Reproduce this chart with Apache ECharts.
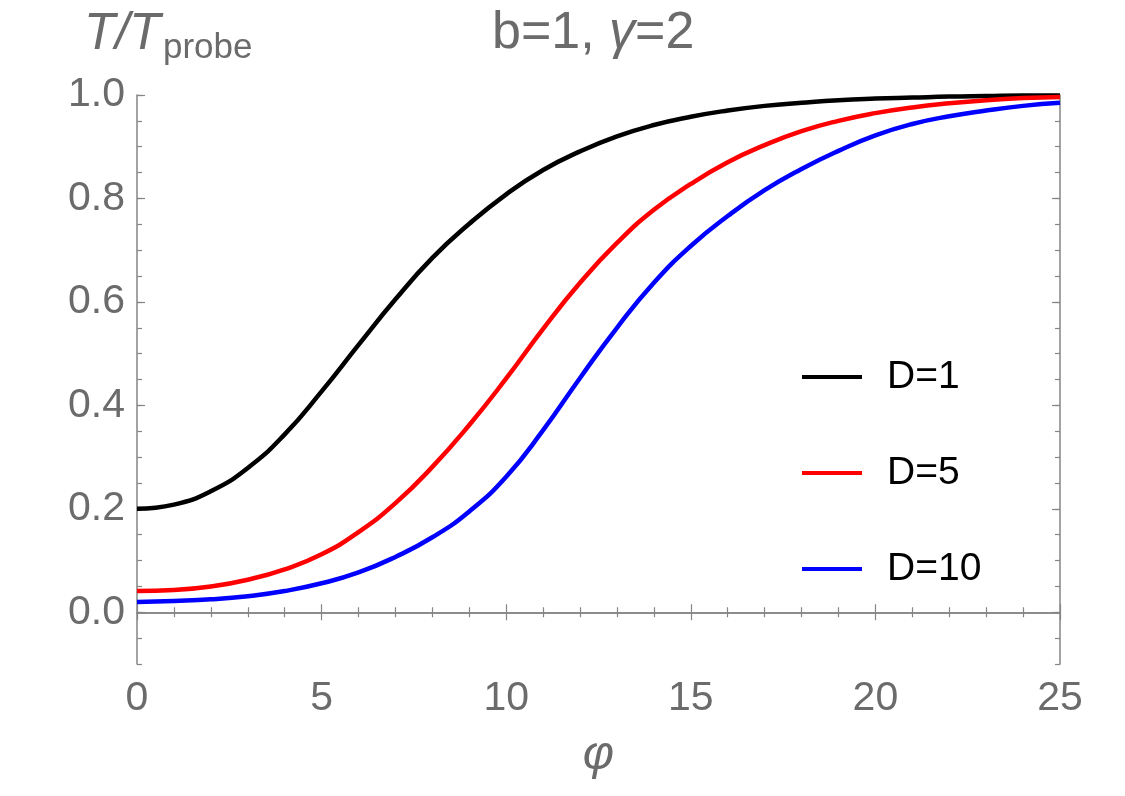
<!DOCTYPE html>
<html>
<head>
<meta charset="utf-8">
<script src="https://cdn.jsdelivr.net/npm/echarts@6/dist/echarts.min.js"></script>
<style>
	html, body { margin: 0; padding: 0; background: #fff; }
	#chart { width: 1125px; height: 796px; }
</style>
</head>
<body>
<div id="chart"></div>
<script>
	// phi values (x) and curves
	var phi = [0, 1, 2, 3, 4, 5, 6, 7, 8, 9, 10, 11, 12, 13, 14, 15, 16, 17, 18, 19, 20, 21, 22, 23, 24, 25];
	var d1 = [0.200, 0.208, 0.234, 0.279, 0.344, 0.427, 0.517, 0.605, 0.685, 0.751, 0.808, 0.855, 0.891, 0.920, 0.942, 0.958, 0.970, 0.979, 0.985, 0.990, 0.993, 0.995, 0.997, 0.998, 0.999, 0.999];
	var d5 = [0.041, 0.043, 0.050, 0.063, 0.083, 0.112, 0.155, 0.211, 0.281, 0.362, 0.452, 0.548, 0.637, 0.714, 0.778, 0.828, 0.870, 0.903, 0.930, 0.950, 0.965, 0.976, 0.984, 0.990, 0.994, 0.996];
	var d10 = [0.020, 0.022, 0.025, 0.031, 0.041, 0.056, 0.077, 0.107, 0.145, 0.195, 0.262, 0.352, 0.453, 0.550, 0.637, 0.708, 0.766, 0.816, 0.857, 0.892, 0.922, 0.944, 0.959, 0.970, 0.979, 0.985];
	var names = ['D=1', 'D=5', 'D=10'];
	var colors = ['#000000', '#ff0000', '#0000ff'];
	var yTicks = [0, 0.2, 0.4, 0.6, 0.8, 1.0];
	var yMinor = [-0.1, -0.05, 0, 0.05, 0.1, 0.15, 0.2, 0.25, 0.3, 0.35, 0.4, 0.45, 0.5, 0.55, 0.6, 0.65, 0.7, 0.75, 0.8, 0.85, 0.9, 0.95, 1.0];

	var gray = '#6b6b6b';
	var frame = '#858585';
	var font = 'Liberation Sans, Arial, sans-serif';

	function pairs(ys) {
		return phi.map(function (x, i) { return [x, ys[i]]; });
	}

	function yAxisDef(pos, major, labels) {
		return {
			type: 'value', position: pos, min: -0.1, max: 1.0,
			axisLine: { show: major, lineStyle: { color: frame, width: 1.5 } },
			axisTick: {
				inside: true, length: major ? 8 : 5,
				customValues: major ? yTicks : yMinor,
				lineStyle: { color: frame, width: 1.2 }
			},
			axisLabel: {
				show: labels, customValues: yTicks, margin: 12,
				color: gray, fontSize: 41, fontFamily: font,
				formatter: function (v) { return v.toFixed(1); }
			},
			splitLine: { show: false }
		};
	}

	function xAxisDef(pos, labels) {
		return {
			type: 'value', position: pos, min: 0, max: 25, interval: 5,
			axisLine: { show: true, lineStyle: { color: frame, width: 1.5 } },
			axisTick: { inside: true, length: 8, lineStyle: { color: frame, width: 1.2 } },
			minorTick: { show: true, splitNumber: 5, length: 5, lineStyle: { color: frame, width: 1.2 } },
			axisLabel: { show: labels, margin: 14, color: gray, fontSize: 41, fontFamily: font },
			splitLine: { show: false },
			minorSplitLine: { show: false },
			name: labels ? 'φ' : '',
			nameLocation: 'middle', nameGap: 68,
			nameTextStyle: { color: gray, fontSize: 48, fontStyle: 'italic', fontFamily: font }
		};
	}

	var series = [d1, d5, d10].map(function (ys, i) {
		return {
			name: names[i], type: 'line', data: pairs(ys),
			showSymbol: false, smooth: 0.5,
			lineStyle: { color: colors[i], width: 4.5 },
			itemStyle: { color: colors[i] },
			xAxisIndex: 0, yAxisIndex: 0
		};
	});

	var myChart = echarts.init(document.getElementById('chart'));
	myChart.setOption({
		backgroundColor: '#fff',
		animation: false,
		title: [
			{
				text: '{n|b=1, }{i|γ}{n|=2}', left: 487, top: 3,
				textStyle: {
					fontWeight: 'normal',
					rich: {
						n: { fontSize: 52, color: gray, fontFamily: font, fontWeight: 'normal' },
						i: { fontSize: 52, color: gray, fontFamily: font, fontWeight: 'normal', fontStyle: 'italic' }
					}
				}
			},
			{
				text: 'T/T', left: 79, top: 4,
				textStyle: { fontSize: 51, color: gray, fontFamily: font, fontStyle: 'italic', fontWeight: 'normal' }
			},
			{
				text: 'probe', left: 158, top: 26,
				textStyle: { fontSize: 35, color: gray, fontFamily: font, fontWeight: 'normal' }
			}
		],
		legend: {
			data: names, orient: 'vertical', left: 802, top: 357, padding: 0,
			icon: 'rect', itemWidth: 60, itemHeight: 4, itemGap: 56,
			textStyle: { color: '#000', fontSize: 39, fontFamily: font, lineHeight: 40, padding: [0, 0, 0, 20] }
		},
		grid: { left: 137, right: 65, top: 95, bottom: 132, containLabel: false },
		xAxis: [xAxisDef('bottom', true), xAxisDef('top', false)],
		yAxis: [
			yAxisDef('left', true, true),
			yAxisDef('left', false, false),
			yAxisDef('right', true, false),
			yAxisDef('right', false, false)
		],
		series: series
	});
</script>
</body>
</html>
